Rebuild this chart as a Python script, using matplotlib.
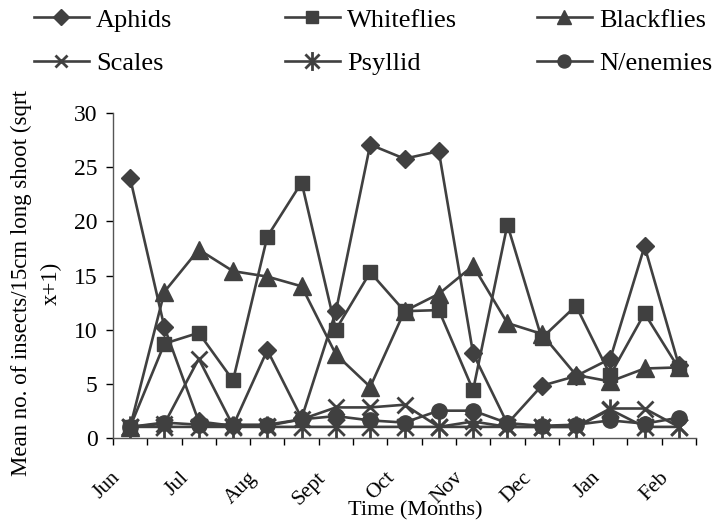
import matplotlib
matplotlib.use("Agg")
import matplotlib.pyplot as plt
import matplotlib.transforms as mtransforms
from matplotlib.path import Path
import numpy as np

# ---------------- data ----------------
n_points = 17
month_labels = ["Jun", "Jul", "Aug", "Sept", "Oct", "Nov", "Dec", "Jan", "Feb"]

aphids     = [24.0, 10.2, 1.5, 1.1, 8.1, 1.8, 11.7, 27.1, 25.8, 26.5, 7.8, 1.3, 4.8, 5.7, 7.3, 17.7, 6.7]
whiteflies = [1.0, 8.7, 9.7, 5.3, 18.6, 23.6, 10.0, 15.3, 11.7, 11.8, 4.4, 19.7, 9.2, 12.2, 5.8, 11.5, 6.4]
blackflies = [1.0, 13.5, 17.4, 15.4, 14.9, 14.0, 7.7, 4.7, 11.7, 13.3, 15.9, 10.6, 9.6, 5.8, 5.2, 6.4, 6.5]
scales     = [1.0, 1.3, 7.3, 1.1, 1.1, 1.7, 2.8, 2.8, 3.05, 1.0, 1.5, 1.0, 1.0, 1.0, 2.7, 2.7, 1.0]
psyllid    = [1.0, 1.0, 1.0, 1.0, 1.0, 1.0, 1.0, 1.0, 1.0, 1.0, 1.0, 1.0, 1.0, 1.0, 2.6, 1.0, 1.0]
nenemies   = [1.0, 1.4, 1.2, 1.2, 1.2, 1.7, 2.0, 1.6, 1.4, 2.5, 2.5, 1.35, 1.1, 1.2, 1.6, 1.3, 1.85]

series_names = ["Aphids", "Whiteflies", "Blackflies", "Scales", "Psyllid", "N/enemies"]

# ---------------- style ----------------
plt.rcParams["font.family"] = ["Liberation Serif", "DejaVu Serif"]
col = "#404040"

asterisk = Path(
    [(0, -1), (0, 1), (-0.75, -0.75), (0.75, 0.75), (-0.75, 0.75), (0.75, -0.75)],
    [Path.MOVETO, Path.LINETO, Path.MOVETO, Path.LINETO, Path.MOVETO, Path.LINETO],
)

styles = {
    "Aphids":     dict(marker="D", ms=9.5),
    "Whiteflies": dict(marker="s", ms=10),
    "Blackflies": dict(marker="^", ms=12.5),
    "Scales":     dict(marker="x", ms=11, mew=2),
    "Psyllid":    dict(marker=asterisk, ms=16, mew=2),
    "N/enemies":  dict(marker="o", ms=11),
}
data = {
    "Aphids": aphids, "Whiteflies": whiteflies, "Blackflies": blackflies,
    "Scales": scales, "Psyllid": psyllid, "N/enemies": nenemies,
}

W, H = 718, 522
fig = plt.figure(figsize=(W / 100, H / 100), dpi=100)
ax = fig.add_axes([113 / W, 1 - 437.7 / H, (696 - 113) / W, (437.7 - 113.3) / H])

x = np.arange(n_points)
handles = {}
for name in series_names:
    st = styles[name]
    (h,) = ax.plot(x, data[name], color=col, lw=1.9, marker=st["marker"],
                   ms=st["ms"], mfc=col, mec=col, mew=st.get("mew", 1.0),
                   label=name, clip_on=False)
    handles[name] = h

ax.set_xlim(-0.5, n_points - 0.5)
ax.set_ylim(0, 30)
ax.set_yticks(np.arange(0, 31, 5))
ax.tick_params(axis="y", direction="out", length=5, width=1, labelsize=17, pad=6, colors="black")

# category boundary tick marks
ax.set_xticks(np.arange(-0.5, n_points, 1.0), minor=True)
ax.tick_params(axis="x", which="minor", direction="out", length=5, width=1)
# labels every second category
ax.set_xticks(np.arange(0, n_points, 2))
ax.set_xticklabels(month_labels, rotation=45, ha="right", va="top", fontsize=15.5)
ax.tick_params(axis="x", which="major", length=0, pad=22)
offset = mtransforms.ScaledTranslation(-6 / 100, 0, fig.dpi_scale_trans)
for lbl in ax.get_xticklabels():
    lbl.set_transform(lbl.get_transform() + offset)

for s in ["top", "right"]:
    ax.spines[s].set_visible(False)
for s in ["left", "bottom"]:
    ax.spines[s].set_color("#555555")
    ax.spines[s].set_linewidth(1)

fig.text(415.5 / W, 1 - 511 / H, "Time (Months)", ha="center", va="center", fontsize=16)
fig.text(36 / W, 1 - 283 / H, "Mean no. of insects/15cm long shoot (sqrt\nx+1)",
         rotation=90, ha="center", va="center", fontsize=16.5, multialignment="center",
         linespacing=1.55)

# legend: three columns placed separately
col_x = [34, 285, 537]
col_items = [["Aphids", "Scales"], ["Whiteflies", "Psyllid"], ["Blackflies", "N/enemies"]]
for cx, items in zip(col_x, col_items):
    leg = fig.legend([handles[n] for n in items], items, loc="center left",
                     bbox_to_anchor=(cx / W, 1 - 41.5 / H), frameon=False,
                     fontsize=19, handlelength=2.08, handletextpad=0.27,
                     labelspacing=0.75, borderpad=0, borderaxespad=0, numpoints=1)
    for lh in leg.legend_handles:
        lh.set_markersize(lh.get_markersize() * 0.85)

fig.savefig("out.png", dpi=100)
